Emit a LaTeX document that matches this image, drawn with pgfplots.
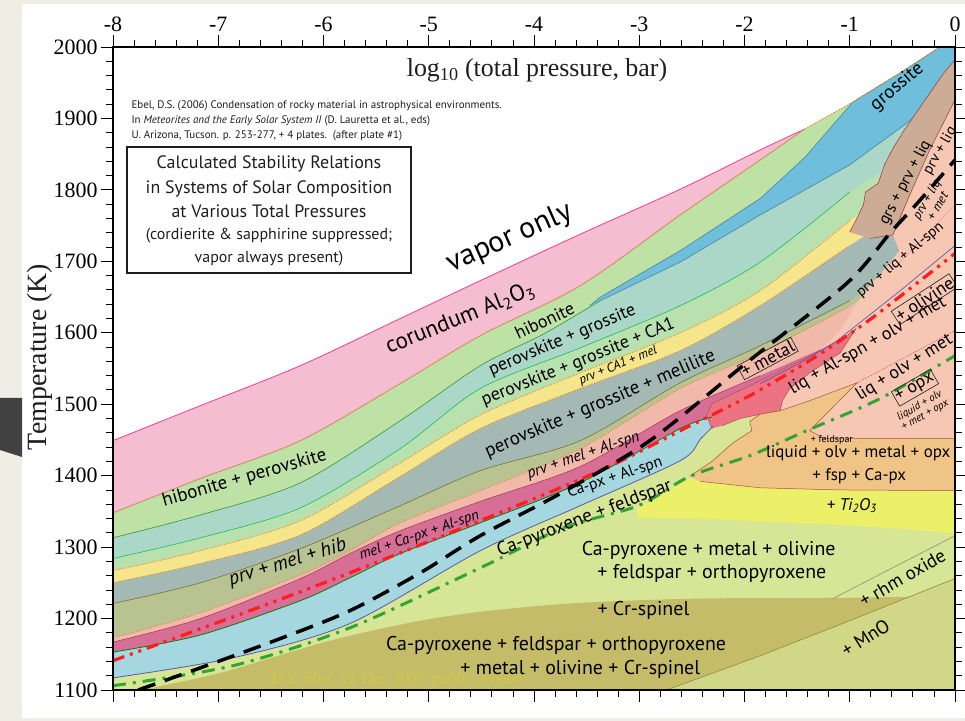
\documentclass[border=0pt]{standalone}
\usepackage{fontspec}
\usepackage{pgfplots}
\pgfplotsset{compat=1.18}
\setmainfont{PT Sans}
\newfontfamily\tms{Liberation Serif}
\newcommand\fs[1]{\fontsize{#1}{#1}\selectfont}

\definecolor{bgbeige}{RGB}{240,237,228}
\definecolor{darkblk}{RGB}{65,65,65}
\definecolor{cpink}{RGB}{245,190,208}
\definecolor{chib}{RGB}{190,225,165}
\definecolor{cteal}{RGB}{170,215,200}
\definecolor{cgrn}{RGB}{185,225,175}
\definecolor{cyel}{RGB}{245,230,140}
\definecolor{cgray}{RGB}{165,185,180}
\definecolor{cprvmel}{RGB}{185,195,145}
\definecolor{clpink}{RGB}{240,185,170}
\definecolor{cmag}{RGB}{215,110,150}
\definecolor{clblue}{RGB}{165,215,225}
\definecolor{cygrn}{RGB}{215,230,150}
\definecolor{colive}{RGB}{196,188,104}
\definecolor{cmno}{RGB}{208,216,135}
\definecolor{cti}{RGB}{236,240,105}
\definecolor{corange}{RGB}{240,195,135}
\definecolor{cpeach}{RGB}{246,200,180}
\definecolor{cred}{RGB}{236,115,130}
\definecolor{cbrown}{RGB}{205,172,150}
\definecolor{cgrs}{RGB}{110,190,220}
\definecolor{dotor}{RGB}{225,145,65}
\definecolor{wmark}{RGB}{215,205,60}
\definecolor{txt}{RGB}{30,30,30}

\begin{document}
\begin{tikzpicture}
\useasboundingbox (0,0) rectangle (965bp,721bp);
\begin{scope}[x=1bp,y=1bp]
\fill[bgbeige] (0,0) rectangle (965,721);
\fill[white] (22,3) rectangle (965,717);
\fill[darkblk] (0,323) -- (22,323) -- (22,264) -- (0,271) -- cycle;
\end{scope}
\begin{axis}[
  at={(113bp,31bp)}, anchor=south west,
  width=842bp, height=643bp, scale only axis,
  xmin=-8, xmax=0, ymin=1100, ymax=2000,
  axis on top,
  xtick={-8,-7,...,0}, xticklabels={-8,-7,-6,-5,-4,-3,-2,-1,0},
  ytick={1100,1200,...,2000},
  yticklabels={1100,1200,1300,1400,1500,1600,1700,1800,1900,2000},
  minor x tick num=4, minor y tick num=4,
  xtick pos=both, ytick pos=both, xticklabel pos=upper, yticklabel pos=left,
  tick align=outside, major tick length=12bp, minor tick length=7bp,
  tick style={black, line width=0.9bp},
  axis line style={line width=1.3bp},
  ticklabel style={font=\tms\fs{22}},
  every node/.append style={text=txt},
  bnd/.style={smooth, tension=0.5},
]
% stability fields, painted from the vapour boundary downwards
\addplot[fill=cpink, draw=none, bnd] coordinates {(-8,1449) (-7.17,1498) (-6.22,1554) (-5.27,1620) (-4.51,1673) (-3.56,1738) (-2.61,1801) (-1.85,1856) (-1.43,1885) (-0.97,1923) (-0.52,1964) (-0.14,2000) (0,2000) (0,1999) (0,1101) (0,1100) (-8,1100) (-8,1101)};
\addplot[fill=chib, draw=none, bnd] coordinates {(-8,1348) (-7.17,1396) (-6.22,1449) (-5.27,1529) (-4.51,1596) (-3.56,1666) (-2.61,1765) (-1.85,1842) (-1.43,1885) (-0.97,1923) (-0.52,1964) (-0.14,2000) (0,2000) (0,1999) (0,1101) (0,1100) (-8,1100) (-8,1101)};
\addplot[fill=cteal, draw=none, bnd] coordinates {(-8,1313) (-7.17,1345) (-6.22,1390) (-5.27,1477) (-4.51,1554) (-3.90,1599) (-3.37,1645) (-2.61,1699) (-1.85,1765) (-1.00,1835) (-0.48,1891) (0,1947) (0,1946) (0,1101) (0,1100) (-8,1100) (-8,1101)};
\addplot[fill=cgrn, draw=none, bnd] coordinates {(-8,1284) (-7.17,1313) (-6.22,1355) (-5.27,1438) (-4.51,1522) (-3.56,1579) (-2.61,1638) (-1.85,1699) (-1.00,1797) (-0.52,1842) (0,1898) (0,1897) (0,1101) (0,1100) (-8,1100) (-8,1101)};
\addplot[fill=cyel, draw=none, bnd] coordinates {(-8,1267) (-7.17,1295) (-6.22,1337) (-5.27,1418) (-4.51,1485) (-3.56,1544) (-2.61,1600) (-1.85,1659) (-1.00,1757) (-0.52,1806) (0,1863) (0,1862) (0,1101) (0,1100) (-8,1100) (-8,1101)};
\addplot[fill=cgray, draw=none, bnd] coordinates {(-8,1250) (-7.17,1277) (-6.22,1317) (-5.27,1399) (-4.51,1466) (-3.56,1522) (-2.61,1575) (-1.85,1638) (-1.00,1722) (-0.52,1765) (0,1806) (0,1805) (0,1101) (0,1100) (-8,1100) (-8,1101)};
\addplot[fill=cprvmel, draw=none, bnd] coordinates {(-8,1221) (-7.17,1250) (-6.22,1298) (-5.27,1358) (-4.51,1407) (-3.56,1449) (-2.61,1530) (-1.85,1582) (-1.00,1645) (-0.59,1699) (0,1743) (0,1742) (0,1101) (0,1100) (-8,1100) (-8,1101)};
\addplot[fill=clpink, draw=none, bnd] coordinates {(-8,1173) (-7.17,1208) (-6.22,1261) (-5.75,1295) (-5.27,1334) (-4.51,1379) (-3.56,1438) (-2.61,1522) (-1.85,1572) (-1.00,1637) (-0.59,1680) (0,1722) (0,1721) (0,1101) (0,1100) (-8,1100) (-8,1101)};
\addplot[fill=cmag, draw=none, bnd] coordinates {(-8,1167) (-7.17,1200) (-6.22,1256) (-5.75,1291) (-5.27,1323) (-4.51,1364) (-3.56,1413) (-2.61,1491) (-1.85,1540) (-1.00,1596) (-0.59,1638) (0,1685) (0,1684) (0,1101) (0,1100) (-8,1100) (-8,1101)};
\addplot[fill=clblue, draw=none, bnd] coordinates {(-8,1153) (-7.17,1177) (-6.22,1225) (-5.75,1257) (-5.27,1291) (-4.51,1334) (-3.56,1390) (-2.61,1466) (-1.85,1505) (-1.00,1561) (0,1645) (0,1644) (0,1101) (0,1100) (-8,1100) (-8,1101)};
\addplot[fill=cygrn, draw=none, bnd] coordinates {(-8,1117) (-6.86,1145) (-5.75,1193) (-4.51,1295) (-3.56,1358) (-2.61,1421) (-2.42,1451) (-2.30,1469) (-2.04,1480) (-1.47,1505) (-0.52,1561) (0,1603) (0,1602) (0,1101) (0,1100) (-8,1100) (-8,1101)};
% Cr-spinel and MnO fields
\addplot[fill=colive, draw=none, bnd] coordinates {(-7.74,1100) (-6.98,1124) (-5.94,1169) (-5.08,1197) (-4.42,1211) (-3.56,1222) (-2.42,1228) (-1.00,1229) (0,1232) (0,1231) (0,1101) (0,1100) (-7.6,1100)};
\addplot[fill=cmno, draw=none] coordinates {(-2.74,1100) (-1.85,1148) (-1.00,1197) (0,1256) (0,1100)};
% grossite wedge
\addplot[fill=cgrs, draw=cgrs!70!black, line width=0.6bp] coordinates {(-3.47,1638) (-3.37,1650) (-2.61,1715) (-1.85,1788) (-1.43,1845) (-0.97,1923) (-0.52,1964) (-0.14,2000) (0,2000) (0,1947) (-0.48,1891) (-1.00,1835) (-1.85,1765) (-2.61,1699) (-3.37,1645)};
% liquid-bearing fields
\addplot[fill=cpeach, draw=none] coordinates {(0,1926) (-0.24,1856) (-0.43,1793) (-0.59,1737) (-0.53,1715) (-0.62,1697) (-0.81,1666) (-0.95,1638) (-1.09,1603) (-1.33,1568) (-1.52,1540) (-1.64,1512) (-1.66,1491) (-0.93,1530) (-1.38,1463) (-1.24,1452) (0,1452)};
\addplot[fill=cred, draw=cred!70!black, line width=0.5bp] coordinates {(-2.31,1466) (-2.36,1484) (-2.31,1501) (-2.09,1516) (-1.85,1533) (-1.47,1561) (-1.09,1589) (-0.94,1606) (-1.09,1572) (-1.38,1544) (-1.57,1522) (-1.64,1505) (-1.66,1491) (-1.85,1486) (-2.04,1480) (-2.21,1470)};
\addplot[fill=cbrown, draw=cbrown!60!red!70!black, line width=0.6bp] coordinates {(-1.00,1741) (-0.95,1755) (-0.87,1779) (-0.85,1797) (-0.73,1809) (-0.67,1835) (-0.59,1858) (-0.48,1884) (-0.27,1929) (-0.10,1965) (0,1982) (0,1926) (-0.24,1856) (-0.43,1793) (-0.59,1737) (-0.81,1732)};
\addplot[fill=cti, draw=none] coordinates {(-3.02,1341) (-3.02,1355) (-2.52,1396) (-2.42,1392) (-1.85,1383) (-1.09,1380) (0,1379) (0,1319) (-0.52,1326) (-1.35,1333) (-2.42,1340)};
\addplot[fill=corange, draw=corange!60!red!70!black, line width=0.5bp] coordinates {(-2.52,1399) (-2.30,1421) (-2.11,1446) (-1.93,1463) (-1.95,1476) (-1.85,1486) (-1.66,1491) (-1.38,1505) (-0.93,1530) (-1.38,1463) (-1.24,1452) (0,1452) (0,1379) (-1.09,1380) (-1.85,1383) (-2.42,1392)};
% field boundaries
\addplot[draw=magenta!70!pink, line width=0.8bp, bnd] coordinates {(-8,1449) (-7.17,1498) (-6.22,1554) (-5.27,1620) (-4.51,1673) (-3.56,1738) (-2.61,1801) (-1.85,1856) (-1.43,1885)};
\addplot[draw=dotor, line width=1bp, dash pattern=on 1.5bp off 1.5bp] coordinates {(-1.43,1885) (-0.97,1923) (-0.52,1964) (-0.14,2000)};
\addplot[draw=brown!70!pink, line width=1bp, bnd] coordinates {(-8,1348) (-7.17,1396) (-6.22,1449) (-5.27,1529) (-4.51,1596) (-3.56,1666) (-2.61,1765) (-1.85,1842) (-1.43,1885)};
\addplot[draw=green!50!black!80, line width=0.6bp, bnd] coordinates {(-8,1313) (-7.17,1345) (-6.22,1390) (-5.27,1477) (-4.51,1554) (-3.90,1599) (-3.37,1645)};
\addplot[draw=green!45!teal, line width=0.5bp, bnd] coordinates {(-8,1284) (-7.17,1313) (-6.22,1355) (-5.27,1438) (-4.51,1522) (-3.56,1579) (-2.61,1638) (-1.85,1699) (-1.00,1797)};
\addplot[draw=dotor, line width=0.9bp, dash pattern=on 1.5bp off 1.5bp, bnd] coordinates {(-8,1267) (-7.17,1295) (-6.22,1337) (-5.27,1418) (-4.51,1485) (-3.56,1544) (-2.61,1600) (-1.85,1659) (-1.00,1757)};
\addplot[draw=dotor, line width=0.9bp, dash pattern=on 1.5bp off 1.5bp, bnd] coordinates {(-8,1250) (-7.17,1277) (-6.22,1317) (-5.27,1399) (-4.51,1466) (-3.56,1522) (-2.61,1575) (-1.85,1638) (-1.00,1722)};
\addplot[draw=olive!70!black, line width=0.5bp, bnd] coordinates {(-8,1221) (-7.17,1250) (-6.22,1298) (-5.27,1358) (-4.51,1407) (-3.56,1449) (-2.61,1530) (-1.85,1582) (-1.00,1645)};
\addplot[draw=dotor, line width=0.9bp, dash pattern=on 1.5bp off 1.5bp, bnd] coordinates {(-8,1173) (-7.17,1208) (-6.22,1261) (-5.75,1295) (-5.27,1334) (-4.51,1379) (-3.56,1438) (-2.61,1522) (-1.85,1572) (-1.00,1637)};
\addplot[draw=purple!60!gray, line width=0.5bp, bnd] coordinates {(-8,1167) (-7.17,1200) (-6.22,1256) (-5.75,1291) (-5.27,1323) (-4.51,1364) (-3.56,1413) (-2.61,1491) (-1.85,1540)};
\addplot[draw=green!50!black, line width=0.8bp, bnd] coordinates {(-8,1153) (-7.17,1177) (-6.22,1225) (-5.75,1257) (-5.27,1291) (-4.51,1334) (-3.56,1390) (-2.61,1466) (-2.31,1482)};
\addplot[draw=blue!30!gray, line width=0.8bp, bnd] coordinates {(-8,1117) (-6.86,1145) (-5.75,1193) (-4.51,1295) (-3.56,1358) (-2.61,1421) (-2.42,1451) (-2.30,1469)};
\addplot[draw=blue!40!gray, line width=0.6bp] coordinates {(-1.85,1529) (-1.47,1558) (-1.12,1589) (-0.52,1659) (0,1722)};
\addplot[draw=pink!70!purple, line width=0.8bp, dash pattern=on 1.5bp off 1.5bp] coordinates {(-0.53,1698) (0,1779)};
\addplot[draw=purple!50!pink, line width=0.8bp, dash pattern=on 1.5bp off 1.5bp] coordinates {(-0.93,1530) (0,1603)};
\addplot[draw=gray!80!olive, line width=0.6bp] coordinates {(-1.16,1228) (0,1316)};
\addplot[draw=olive!60!gray, line width=0.6bp] coordinates {(-2.74,1100) (-1.85,1148) (-1.00,1197) (0,1256)};
% condensation curves: feldspar (dash-dot), olivine (dash-dot-dot), metal (dashed)
\addplot[color=green!55!black!80, line width=3bp, dash pattern=on 13bp off 7bp on 3bp off 7bp, bnd] coordinates {(-8,1106) (-6.86,1134) (-5.75,1187) (-4.51,1271) (-3.72,1327) (-3.01,1358) (-2.52,1399) (-1.95,1428) (-1.41,1463) (-0.71,1508) (0,1568)};
\addplot[color=red!85!pink, line width=3.2bp, dash pattern=on 12bp off 6bp on 3bp off 6bp on 3bp off 6bp, bnd] coordinates {(-8,1141) (-6.70,1211) (-5.75,1264) (-4.51,1337) (-3.37,1407) (-2.61,1463) (-1.95,1512) (-1.35,1564) (-0.84,1615) (-0.33,1673) (0,1711)};
\addplot[color=black, line width=3.5bp, dash pattern=on 18bp off 10bp, bnd] coordinates {(-7.76,1100) (-7.17,1131) (-6.41,1172) (-5.75,1211) (-5.08,1264) (-4.51,1316) (-3.75,1375) (-2.90,1449) (-1.98,1558) (-1.03,1669) (-0.62,1739) (-0.33,1786) (0,1842)};
% watermark
\node[font=\tms\itshape\fs{16}, text=wmark, opacity=0.75] at (axis cs:-5.30,1115) {D.S. Ebel\ \ 21-Dec-2007\ \ public version};
% field names
\node[rotate=24,font=\fs{30}] at (axis cs:-4.23,1732) {vapor only};
\node[rotate=22,font=\fs{23}] at (axis cs:-4.70,1620) {corundum Al\textsubscript{2}O\textsubscript{3}};
\node[rotate=25,font=\fs{18}] at (axis cs:-3.90,1617) {hibonite};
\node[rotate=23,font=\fs{18}] at (axis cs:-3.73,1589) {perovskite + grossite};
\node[rotate=22,font=\fs{18}] at (axis cs:-3.58,1558) {perovskite + grossite + CA1};
\node[rotate=22,font=\itshape\fs{13}] at (axis cs:-3.20,1554) {prv + CA1 + mel};
\node[rotate=23,font=\fs{19}] at (axis cs:-3.37,1500) {perovskite + grossite + melilite};
\node[rotate=16,font=\fs{19}] at (axis cs:-6.75,1396) {hibonite + perovskite};
\node[rotate=17,font=\itshape\fs{20}] at (axis cs:-6.34,1278) {prv + mel + hib};
\node[rotate=19,font=\itshape\fs{15}] at (axis cs:-5.09,1316) {mel + Ca-px + Al-spn};
\node[rotate=19,font=\itshape\fs{16}] at (axis cs:-3.53,1428) {prv + mel + Al-spn};
\node[rotate=19,font=\fs{16}] at (axis cs:-3.23,1397) {Ca-px + Al-spn};
\node[rotate=21,font=\fs{19}] at (axis cs:-3.52,1340) {Ca-pyroxene + feldspar};
\node[rotate=28,draw=txt,line width=0.6bp,inner sep=1.5bp,font=\fs{18}] at (axis cs:-1.78,1564) {+ metal};
\node[rotate=40,font=\fs{19}] at (axis cs:-0.55,1944) {grossite};
\node[rotate=62,font=\fs{16}] at (axis cs:-0.47,1810) {grs + prv + liq};
\node[rotate=60,font=\fs{15}] at (axis cs:-0.14,1855) {prv + liq};
\node[rotate=60,font=\itshape\fs{13},align=center] at (axis cs:-0.22,1782) {prv + liq\\+ met};
\node[rotate=40,font=\fs{15}] at (axis cs:-0.52,1702) {prv + liq + Al-spn};
\node[rotate=33,draw=txt,line width=0.6bp,inner sep=1.5bp,font=\fs{18}] at (axis cs:-0.29,1647) {+ olivine};
\node[rotate=30,font=\fs{18}] at (axis cs:-0.83,1582) {liq + Al-spn + olv + met};
\node[rotate=32,font=\fs{18}] at (axis cs:-0.48,1551) {liq + olv + met};
\node[rotate=30,draw=txt,line width=0.6bp,inner sep=1.5bp,font=\fs{18}] at (axis cs:-0.38,1523) {+ opx};
\node[rotate=30,font=\itshape\fs{11},align=center] at (axis cs:-0.31,1491) {liquid + olv\\+ met + opx};
\node[font=\fs{10}] at (axis cs:-1.17,1450) {+ feldspar};
\node[font=\fs{17}] at (axis cs:-0.92,1431) {liquid + olv + metal + opx};
\node[font=\fs{17}] at (axis cs:-0.91,1400) {+ fsp + Ca-px};
\node[font=\itshape\fs{17}] at (axis cs:-0.98,1358) {+ Ti\textsubscript{2}O\textsubscript{3}};
\node[font=\fs{20}] at (axis cs:-2.34,1295) {Ca-pyroxene + metal + olivine};
\node[font=\fs{20}] at (axis cs:-2.31,1263) {+ feldspar + orthopyroxene};
\node[font=\fs{20}] at (axis cs:-2.96,1211) {+ Cr-spinel};
\node[font=\fs{20}] at (axis cs:-3.79,1162) {Ca-pyroxene + feldspar + orthopyroxene};
\node[font=\fs{20}] at (axis cs:-3.56,1129) {+ metal + olivine + Cr-spinel};
\node[rotate=30,font=\fs{19}] at (axis cs:-0.50,1257) {+ rhm oxide};
\node[rotate=32,font=\fs{19}] at (axis cs:-0.85,1173) {+ MnO};
\end{axis}
\begin{scope}[x=1bp,y=1bp,text=txt]
\node[anchor=base, font=\tms\fs{26}] at (537,644) {log\textsubscript{10} (total pressure, bar)};
\node[rotate=90, font=\tms\fs{28}] at (40,364) {Temperature (K)};
\node[anchor=base west, font=\fs{11}] at (128,612) {Ebel, D.S. (2006) Condensation of rocky material in astrophysical environments.};
\node[anchor=base west, font=\fs{11}] at (128,597) {In \textit{Meteorites and the Early Solar System II} (D. Lauretta et al., eds)};
\node[anchor=base west, font=\fs{11}] at (128,582) {U. Arizona, Tucson. p. 253-277, + 4 plates.\ \ (after plate \#1)};
\draw[line width=1.2bp, txt] (127,448) rectangle (411,574);
\node[anchor=base, font=\fs{18}] at (269,552) {Calculated Stability Relations};
\node[anchor=base, font=\fs{18}] at (269,527) {in Systems of Solar Composition};
\node[anchor=base, font=\fs{18}] at (269,503) {at Various Total Pressures};
\node[anchor=base, font=\fs{16}] at (269,481) {(cordierite \& sapphirine suppressed;};
\node[anchor=base, font=\fs{16}] at (269,458) {vapor always present)};
\end{scope}
\end{tikzpicture}
\end{document}
